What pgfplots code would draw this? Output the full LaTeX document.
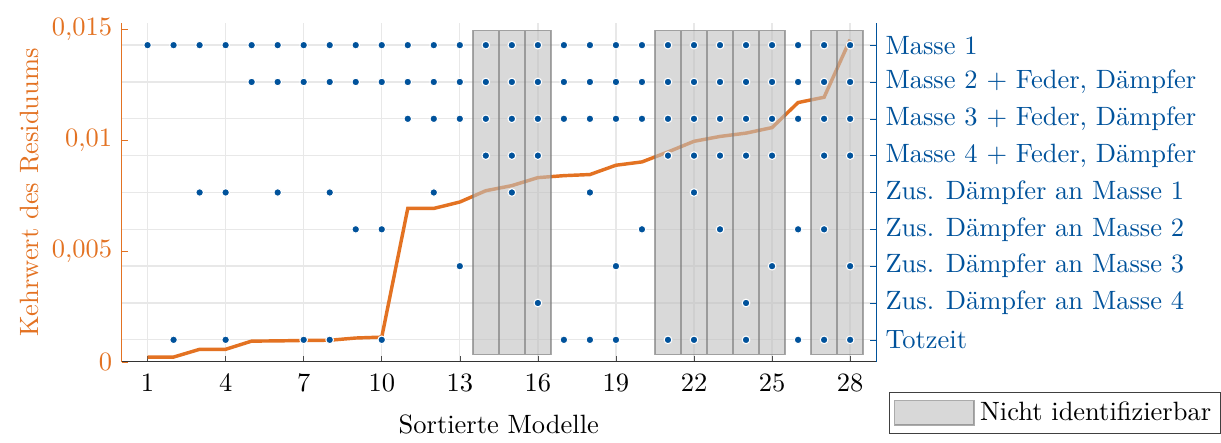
\documentclass[border=0pt]{standalone}
\usepackage{pgfplots}
\pgfplotsset{compat=1.18}
\definecolor{tumorange}{RGB}{227,114,34}
\definecolor{tumblue}{RGB}{0,82,155}
\definecolor{gridc}{RGB}{232,232,232}
\pgfplotsset{boxleg/.style={legend image code/.code={\draw[##1] (0pt,-4.6pt) rectangle (30pt,4.6pt);}}}
\pgfplotsset{dots/.style={only marks, mark=*, mark size=1.45pt,
  mark options={fill=tumblue, draw=white, line width=0.4pt}, forget plot}}
\begin{document}
\begin{tikzpicture}
% grid-only axis
\begin{axis}[
  scale only axis, width=285pt, height=128pt,
  xmin=0, xmax=29, ymin=0.4, ymax=9.6,
  xtick={1,4,...,28}, ytick={1,...,9},
  xticklabels={}, yticklabels={},
  grid=major, grid style={gridc, line width=0.5pt},
  axis line style={draw=none}, tick style={draw=none},
  title={\rule{0pt}{0pt}}, title style={inner sep=0pt, yshift=1.5pt},
]
\end{axis}
% left axis: curve
\begin{axis}[
  scale only axis, width=285pt, height=128pt,
  xmin=0, xmax=29, ymin=0, ymax=0.0153,
  axis x line*=bottom, axis y line*=left,
  x axis line style={-, black!80},
  y axis line style={-, tumorange},
  xtick={1,4,...,28},
  ytick={0,0.005,0.01,0.015},
  scaled y ticks=false,
  yticklabels={0,{0,005},{0,01},{0,015}},
  tick align=inside, major tick length=2.3pt,
  xtick style={black!70},
  ytick style={tumorange},
  yticklabel style={tumorange},
  xticklabel style={yshift=-1pt},
  ylabel={Kehrwert des Residuums}, ylabel style={tumorange, inner ysep=7.6pt},
  ylabel shift=-6.3pt,
  xlabel={Sortierte Modelle},
  xlabel shift=2pt,
]
\addplot[tumorange, line width=1.3pt, mark=none] coordinates {
(1,0.00022) (2,0.00022) (3,0.00057) (4,0.00057) (5,0.00094) (6,0.00095)
(7,0.00097) (8,0.00098) (9,0.00108) (10,0.00112) (11,0.00693) (12,0.00693)
(13,0.00722) (14,0.00773) (15,0.00796) (16,0.00832) (17,0.00841) (18,0.00846)
(19,0.00888) (20,0.00903) (21,0.00948) (22,0.00996) (23,0.01018) (24,0.01033)
(25,0.01058) (26,0.01171) (27,0.01195) (28,0.01455)
};
\end{axis}
% right axis: boxes and dots
\begin{axis}[
  scale only axis, width=285pt, height=128pt,
  xmin=0, xmax=29, ymin=0.4, ymax=9.6,
  axis x line=none, axis y line*=right,
  y axis line style={-, tumblue},
  ytick={1,...,9},
  yticklabels={Totzeit, Zus. Dämpfer an Masse 4, Zus. Dämpfer an Masse 3,
    Zus. Dämpfer an Masse 2, Zus. Dämpfer an Masse 1,
    {Masse 4 + Feder, Dämpfer}, {Masse 3 + Feder, Dämpfer},
    {Masse 2 + Feder, Dämpfer}, Masse 1},
  tick align=inside, major tick length=2.3pt,
  ytick style={tumblue},
  yticklabel style={tumblue},
  legend style={at={(1.457,-0.088)}, anchor=north east, draw=black!75,
    inner sep=1.5pt, font=\normalsize},
  legend cell align=left,
  unbounded coords=jump,
]
\addplot[fill=black!25, fill opacity=0.6, draw=black!55, draw opacity=0.6,
  line width=0.6pt, area legend, boxleg]
coordinates {
(13.5,0.6) (14.5,0.6) (14.5,9.4) (13.5,9.4) (13.5,0.6) (14,nan)
(14.5,0.6) (15.5,0.6) (15.5,9.4) (14.5,9.4) (14.5,0.6) (15,nan)
(15.5,0.6) (16.5,0.6) (16.5,9.4) (15.5,9.4) (15.5,0.6) (16,nan)
(20.5,0.6) (21.5,0.6) (21.5,9.4) (20.5,9.4) (20.5,0.6) (21,nan)
(21.5,0.6) (22.5,0.6) (22.5,9.4) (21.5,9.4) (21.5,0.6) (22,nan)
(22.5,0.6) (23.5,0.6) (23.5,9.4) (22.5,9.4) (22.5,0.6) (23,nan)
(23.5,0.6) (24.5,0.6) (24.5,9.4) (23.5,9.4) (23.5,0.6) (24,nan)
(24.5,0.6) (25.5,0.6) (25.5,9.4) (24.5,9.4) (24.5,0.6) (25,nan)
(26.5,0.6) (27.5,0.6) (27.5,9.4) (26.5,9.4) (26.5,0.6) (27,nan)
(27.5,0.6) (28.5,0.6) (28.5,9.4) (27.5,9.4) (27.5,0.6)
};
\addlegendentry{Nicht identifizierbar}
% Masse 1
\addplot[dots] coordinates {(1,9)(2,9)(3,9)(4,9)(5,9)(6,9)(7,9)(8,9)(9,9)(10,9)(11,9)(12,9)(13,9)(14,9)
(15,9)(16,9)(17,9)(18,9)(19,9)(20,9)(21,9)(22,9)(23,9)(24,9)(25,9)(26,9)(27,9)(28,9)};
% Masse 2
\addplot[dots] coordinates {(5,8)(6,8)(7,8)(8,8)(9,8)(10,8)(11,8)(12,8)(13,8)(14,8)
(15,8)(16,8)(17,8)(18,8)(19,8)(20,8)(21,8)(22,8)(23,8)(24,8)(25,8)(26,8)(27,8)(28,8)};
% Masse 3
\addplot[dots] coordinates {(11,7)(12,7)(13,7)(14,7)
(15,7)(16,7)(17,7)(18,7)(19,7)(20,7)(21,7)(22,7)(23,7)(24,7)(25,7)(26,7)(27,7)(28,7)};
% Masse 4
\addplot[dots] coordinates {(14,6)(15,6)(16,6)(21,6)(22,6)(23,6)(24,6)(25,6)(27,6)(28,6)};
% Zus. Daempfer Masse 1
\addplot[dots] coordinates {(3,5)(4,5)(6,5)(8,5)(12,5)(15,5)(18,5)(22,5)};
% Zus. Daempfer Masse 2
\addplot[dots] coordinates {(9,4)(10,4)(20,4)(23,4)(26,4)(27,4)};
% Zus. Daempfer Masse 3
\addplot[dots] coordinates {(13,3)(19,3)(25,3)(28,3)};
% Zus. Daempfer Masse 4
\addplot[dots] coordinates {(16,2)(24,2)};
% Totzeit
\addplot[dots] coordinates {(2,1)(4,1)(7,1)(8,1)(10,1)(17,1)(18,1)(19,1)(21,1)(22,1)(24,1)(26,1)(27,1)(28,1)};
\end{axis}
\end{tikzpicture}
\end{document}
